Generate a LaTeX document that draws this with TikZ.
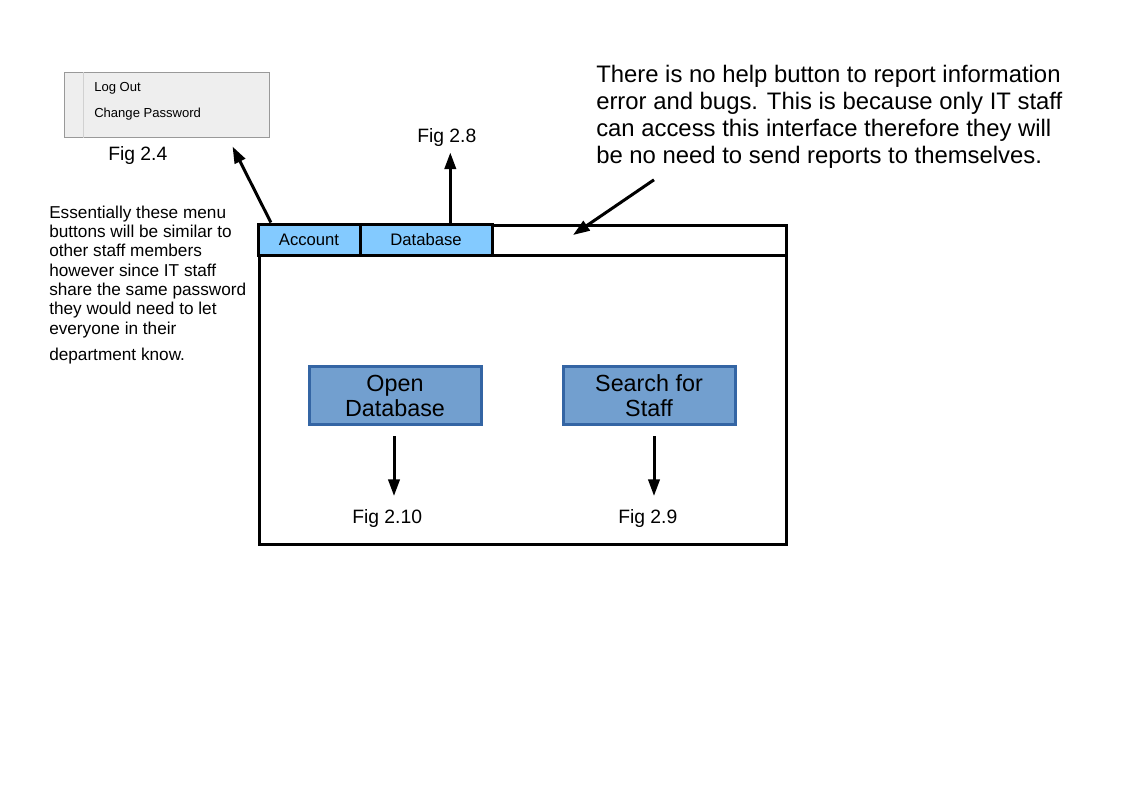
\documentclass[tikz,border=0pt]{standalone}
\usepackage{fontspec}
\setmainfont{Liberation Sans}
\usetikzlibrary{calc,arrows.meta}

\definecolor{tabblue}{HTML}{83CAFF}
\definecolor{btnfill}{HTML}{729FCF}
\definecolor{btnline}{HTML}{3465A4}
\definecolor{menugray}{HTML}{EEEEEE}
\definecolor{menuline}{HTML}{999999}
\newcommand{\pxu}{0.75pt}

\begin{document}
\begin{tikzpicture}[x=0.75pt, y=-0.75pt,
		arr/.style={line width=2.25pt, -{Triangle[length=12.5pt,width=8.5pt]}},
		tab/.style={draw, line width=2.25pt, fill=tabblue, minimum height=31*\pxu, inner sep=0pt, font=\fontsize{12.5}{15}\selectfont},
		button/.style={draw=btnline, line width=2.25pt, fill=btnfill, minimum width=172*\pxu, minimum height=58*\pxu, align=center, inner sep=0pt, font=\fontsize{17.5}{18.75}\selectfont},
		figlabel/.style={anchor=base west, inner sep=0pt, font=\fontsize{14.5}{17}\selectfont},
		menuitem/.style={anchor=base west, inner sep=0pt, font=\fontsize{9.8}{12}\selectfont}]
			\useasboundingbox (0,0) rectangle (1123,794);

			% popup menu
			\node[draw=menuline, fill=menugray, minimum width=205*\pxu, minimum height=65*\pxu, anchor=north west] (menubox) at (64,72) {};
			\draw[color=menuline!45, line width=0.75pt] ($(menubox.north west)+(19,0)$)--($(menubox.south west)+(19,0)$);
			\node[menuitem] (logout) at (94,91) {Log Out};
			\node[menuitem] (chpw) at (94,117) {Change Password};
			\node[figlabel] (fig24) at (108,160) {Fig 2.4};

			% window
			\node[draw, line width=2.25pt, minimum width=527*\pxu, minimum height=319*\pxu, anchor=north west] (window) at (258,224) {};
			\draw[line width=2.25pt] ($(window.north west)+(0,31)$)--($(window.north east)+(0,31)$);
			\node[tab, minimum width=102*\pxu] (account) at (309,239.5) {Account};
			\node[tab, minimum width=132*\pxu] (database) at (426,239.5) {Database};

			\node[button] (open) at (395,395.5) {Open\\Database};
			\node[button] (search) at (649,395.5) {Search for\\Staff};

			\node[figlabel] (fig28) at (417,142) {Fig 2.8};
			\node[figlabel] (fig210) at (352,523) {Fig 2.10};
			\node[figlabel] (fig29) at (618,523) {Fig 2.9};

			% notes
			\node[anchor=north west, inner sep=0pt, align=left, font=\fontsize{17.9}{20.25}\selectfont] (helpnote) at (596,65) {There is no help button to report information\\error and bugs. This is because only IT staff\\can access this interface therefore they will\\be no need to send reports to themselves.};
			\node[anchor=north west, inner sep=0pt, align=left, font=\fontsize{12.9}{14.5}\selectfont] (menunote) at (49,205.4) {Essentially these menu\\buttons will be similar to\\other staff members\\however since IT staff\\share the same password\\they would need to let\\everyone in their\\[5pt]department know.};

			% arrows
			\coordinate (barspot) at (573,235);
			\draw[arr] ($(account.north west)!0.137!(account.north east)$)--($(menubox.south east)+(-37,9)$);
			\draw[arr] ($(database.north west)!0.68!(database.north east)$)--++(0,-70);
			\draw[arr] ($(helpnote.south west)+(58,11)$)--(barspot);
			\draw[arr] ($(open.south)+(-1,10)$)--++(0,60);
			\draw[arr] ($(search.south)+(5,10)$)--++(0,60);
\end{tikzpicture}
\end{document}
